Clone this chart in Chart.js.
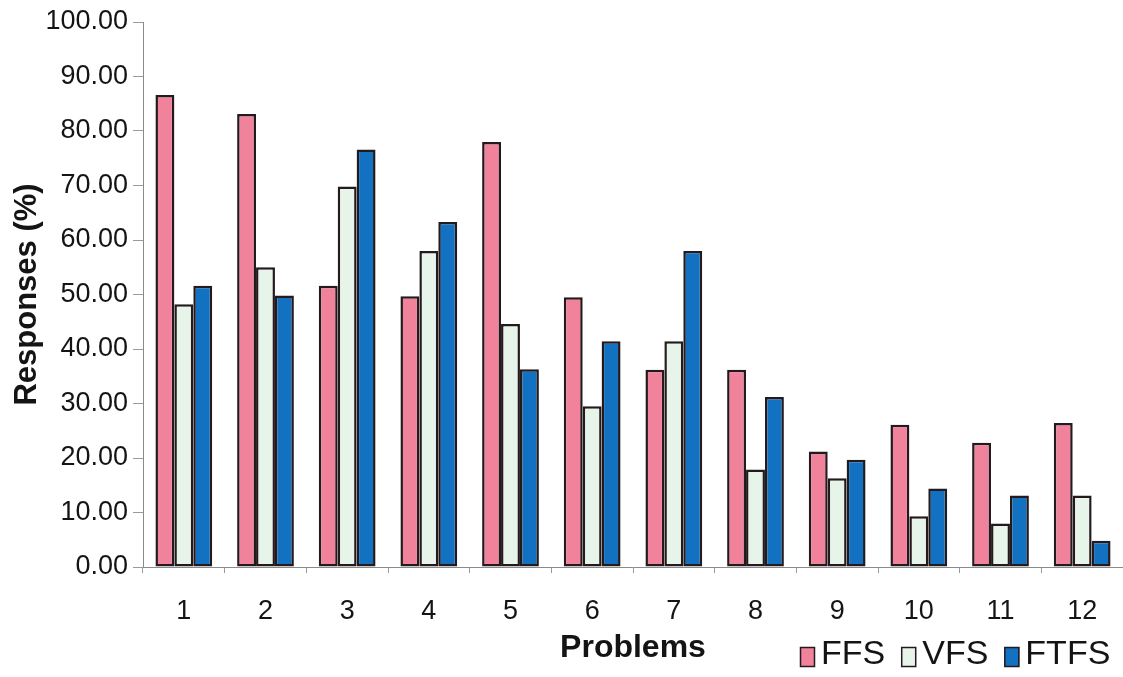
<!DOCTYPE html>
<html>
<head>
<meta charset="utf-8">
<script src="https://cdn.jsdelivr.net/npm/chart.js@4/dist/chart.umd.min.js"></script>
<style>
  html, body { margin: 0; padding: 0; background: #ffffff; }
  #wrap { width: 1123px; height: 677px; }
</style>
</head>
<body>
<div id="wrap"><canvas id="c" width="1123" height="677"></canvas></div>
<script>
// Problem numbers along the x axis
const problems = ['1', '2', '3', '4', '5', '6', '7', '8', '9', '10', '11', '12'];

// Share of responses (%) per problem for each method
const ffs  = [86.6, 83.1, 51.6, 49.7, 78.0, 49.5, 36.2, 36.2, 21.2, 26.1, 22.8, 26.4];
const vfs  = [48.2, 55.0, 69.8, 58.0, 44.6, 29.5, 41.4, 17.9, 16.3, 9.3, 8.0, 13.1];
const ftfs = [51.6, 49.8, 76.6, 63.3, 36.3, 41.4, 58.0, 31.2, 19.7, 14.4, 13.1, 4.8];

const seriesNames = ['FFS', 'VFS', 'FTFS'];

// Y axis ticks: 0.00 .. 100.00
const yMin = 0, yMax = 100, yStep = 10;

const FONT = '"Liberation Sans", Arial, sans-serif';
const EDGE = '#241a1d';
const INK = '#141414';

// Legend drawn to the right of the x-axis title, on the same line
const inlineLegend = {
  id: 'inlineLegend',
  afterDraw(chart) {
    const ctx = chart.ctx;
    ctx.save();
    ctx.font = '34px ' + FONT;
    ctx.textBaseline = 'middle';
    ctx.textAlign = 'left';
    let x = 800;
    const boxW = 15, boxH = 20, boxTop = 647, textY = 655;
    chart.data.datasets.forEach(ds => {
      ctx.fillStyle = ds.backgroundColor;
      ctx.fillRect(x, boxTop, boxW, boxH);
      ctx.lineWidth = 1.5;
      ctx.strokeStyle = EDGE;
      ctx.strokeRect(x + 0.5, boxTop + 0.5, boxW - 1, boxH - 1);
      x += boxW + 6;
      ctx.fillStyle = INK;
      ctx.fillText(ds.label, x, textY);
      x += ctx.measureText(ds.label).width + 16;
    });
    ctx.restore();
  }
};

new Chart(document.getElementById('c'), {
  type: 'bar',
  data: {
    labels: problems,
    datasets: [
      { label: seriesNames[0], data: ffs,  backgroundColor: '#F0829C' },
      { label: seriesNames[1], data: vfs,  backgroundColor: '#E7F4EA' },
      { label: seriesNames[2], data: ftfs, backgroundColor: '#1271C0' }
    ]
  },
  options: {
    responsive: false,
    animation: false,
    devicePixelRatio: 1,
    layout: { padding: { top: 22, right: -6, bottom: 0, left: 0 } },
    datasets: {
      bar: {
        categoryPercentage: 0.695,
        barPercentage: 1.0,
        borderWidth: 2.5,
        borderColor: EDGE,
        borderSkipped: false
      }
    },
    plugins: {
      legend: { display: false },
      tooltip: { enabled: false }
    },
    scales: {
      x: {
        offset: true,
        grid: {
          display: true,
          offset: true,
          drawOnChartArea: false,
          drawTicks: true,
          tickLength: 6,
          color: '#9a9a9a'
        },
        border: { display: true, color: '#8a8a8a', width: 1 },
        ticks: {
          color: INK,
          font: { family: FONT, size: 27 },
          padding: 22,
          maxRotation: 0
        },
        title: {
          display: true,
          text: 'Problems',
          color: INK,
          font: { family: FONT, size: 32, weight: 'bold' },
          padding: { top: 0, bottom: 10 }
        },
        afterFit(scale) { scale.height = 110; }
      },
      y: {
        min: yMin,
        max: yMax,
        grid: {
          display: true,
          drawOnChartArea: false,
          drawTicks: true,
          tickLength: 10,
          color: '#9a9a9a'
        },
        border: { display: true, color: '#8a8a8a', width: 1 },
        ticks: {
          stepSize: yStep,
          color: INK,
          font: { family: FONT, size: 27 },
          padding: 5,
          callback: v => Number(v).toFixed(2)
        },
        title: {
          display: true,
          text: 'Responses (%)',
          color: INK,
          font: { family: FONT, size: 31, weight: 'bold' },
          padding: { top: 9, bottom: 0 }
        },
        afterFit(scale) { scale.width = 143; }
      }
    }
  },
  plugins: [inlineLegend]
});
</script>
</body>
</html>
